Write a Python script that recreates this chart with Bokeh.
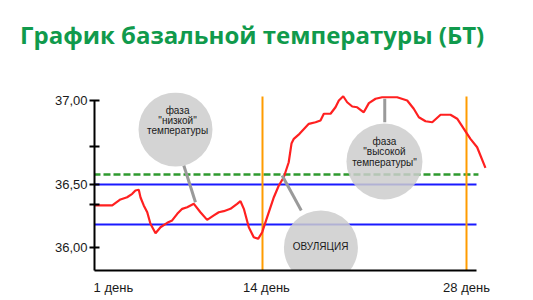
from bokeh.plotting import figure
from bokeh.models import FixedTicker, Range1d, Div
from bokeh.layouts import column
from bokeh.core.properties import value
from bokeh.embed import file_html
from bokeh.resources import INLINE

title_text = "График базальной температуры (БТ)"

# basal body temperature curve: day of cycle, temperature (°C)
bt_day = [2.47, 3.69, 4.25, 4.71, 5.06, 5.28, 5.51, 5.63, 5.85, 6.09,
          6.31, 6.66, 7.00, 7.46, 7.80, 8.15, 8.49, 8.83, 9.29, 9.74,
          10.20, 10.66, 11.00, 11.34, 11.80, 12.26, 12.49, 12.72, 13.06, 13.40,
          13.70, 13.98, 14.32, 14.78, 15.12, 15.46, 15.80, 15.99, 16.15, 16.54,
          17.18, 17.64, 17.98, 18.21, 18.67, 19.01, 19.24, 19.54, 19.81, 20.16,
          20.50, 20.95, 21.30, 21.76, 22.21, 23.24, 23.93, 24.38, 24.73, 25.19,
          25.65, 26.22, 26.90, 27.36, 27.82, 28.27, 28.73, 29.30]
bt_temp = [36.286, 36.286, 36.327, 36.342, 36.365, 36.388, 36.393, 36.340, 36.286, 36.240,
           36.161, 36.097, 36.138, 36.168, 36.184, 36.229, 36.263, 36.274, 36.297, 36.240,
           36.188, 36.218, 36.240, 36.247, 36.263, 36.297, 36.315, 36.263, 36.138, 36.070,
           36.059, 36.104, 36.206, 36.342, 36.422, 36.478, 36.580, 36.707, 36.739, 36.773,
           36.841, 36.852, 36.864, 36.910, 36.910, 36.954, 37.000, 37.029, 36.988, 36.959,
           36.954, 36.920, 36.982, 37.012, 37.022, 37.022, 37.000, 36.944, 36.886, 36.859,
           36.852, 36.903, 36.903, 36.876, 36.807, 36.739, 36.682, 36.542]

day_tick_pos = [3.77, 14.27, 28.0]
day_tick_labels = ["1 день", "14 день", "28 день"]
temp_tick_pos = [36.0, 36.293, 36.429, 36.687, 37.0]
temp_tick_labels = ["36,00", "", "36,50", "", "37,00"]

band_levels = [36.429, 36.156]
cover_level = 36.497
marker_days = [14, 28]

# callout bubbles
bubble_x = [8.03, 18.01, 22.37]
bubble_y = [36.803, 36.0, 36.585]
bubble_size = [74, 74, 76]

bubble_text = ["фаза", "\"низкой\"", "температуры",
               "фаза", "\"высокой", "температуры\""]
bubble_text_x = [8.17, 8.17, 8.17, 22.37, 22.37, 22.37]
bubble_text_y = [36.932, 36.867, 36.799, 36.721, 36.650, 36.578]

ovulation_text = ["ОВУЛЯЦИЯ"]
ovulation_x = [17.98]
ovulation_y = [36.007]

pointer_x0 = [8.60, 16.66, 22.39]
pointer_y0 = [36.558, 36.252, 36.852]
pointer_x1 = [9.40, 15.35, 22.39]
pointer_y1 = [36.308, 36.490, 37.012]

title = Div(text=title_text, width=533, height=62, margin=(0, 0, 0, 0),
            styles={"font-family": "'Open Sans'", "font-weight": "bold",
                    "font-size": "24px", "line-height": "24px",
                    "color": "#109a4c", "padding-left": "20px",
                    "padding-top": "23px", "white-space": "nowrap"})

p = figure(width=533, height=238, output_backend="svg", toolbar_location=None,
           x_range=Range1d(2.471, 29.510), y_range=Range1d(35.8435, 37.0544),
           min_border_left=94, min_border_right=45, min_border_top=30,
           min_border_bottom=30, margin=(0, 0, 0, 0))
p.background_fill_color = "white"
p.border_fill_color = "white"
p.outline_line_color = None
p.xgrid.visible = False
p.ygrid.visible = False

# reference lines
p.segment(x0=[1.715], y0=[cover_level], x1=[28.82], y1=[cover_level],
          line_color="#2f9a2f", line_width=2.5, line_dash="7 3")
p.segment(x0=[2.471] * 2, y0=band_levels, x1=[28.686] * 2, y1=band_levels,
          line_color="#1a1aff", line_width=2)
p.segment(x0=marker_days, y0=[37.027] * 2, x1=marker_days, y1=[35.789] * 2,
          line_color="#ff9c00", line_width=2)

# temperature curve
p.line(bt_day, bt_temp, line_color="#ff2020", line_width=2.2)

# callouts
p.segment(x0=pointer_x0, y0=pointer_y0, x1=pointer_x1, y1=pointer_y1,
          line_color="#9a9a9a", line_width=3)
p.scatter(bubble_x, bubble_y, size=bubble_size, marker="circle",
          fill_color="#cdcdcd", fill_alpha=0.85, line_color=None)
p.text(bubble_text_x, bubble_text_y, text=bubble_text,
       text_font=value("Liberation Sans"), text_font_size="10px",
       text_color="#1a1a1a", text_align="center", text_baseline="middle")
p.text(ovulation_x, ovulation_y, text=ovulation_text,
       text_font=value("Liberation Sans"), text_font_size="10px",
       text_color="#1a1a1a", text_align="center", text_baseline="middle")

# axes
p.yaxis.bounds = (35.8435, 37.0)
p.yaxis.ticker = FixedTicker(ticks=temp_tick_pos)
p.yaxis.major_label_overrides = dict(zip(temp_tick_pos, temp_tick_labels))
p.yaxis.minor_tick_line_color = None
p.yaxis.major_tick_in = 5
p.yaxis.major_tick_out = 5
p.yaxis.major_tick_line_width = 2
p.yaxis.axis_line_width = 2
p.yaxis.major_label_standoff = 2
p.yaxis.major_label_text_font = "Liberation Sans"
p.yaxis.major_label_text_font_size = "13px"
p.yaxis.major_label_text_color = "#1a1a1a"

p.xaxis.bounds = (2.471, 28.686)
p.xaxis.ticker = FixedTicker(ticks=day_tick_pos)
p.xaxis.major_label_overrides = dict(zip(day_tick_pos, day_tick_labels))
p.xaxis.minor_tick_line_color = None
p.xaxis.major_tick_line_color = None
p.xaxis.major_tick_in = 0
p.xaxis.major_tick_out = 0
p.xaxis.axis_line_width = 2
p.xaxis.major_label_standoff = 9
p.xaxis.major_label_text_font = "Liberation Sans"
p.xaxis.major_label_text_font_size = "13px"
p.xaxis.major_label_text_color = "#1a1a1a"

layout = column(title, p, spacing=0, margin=(0, 0, 0, 0))

open("out.html", "w").write(file_html(layout, INLINE))
